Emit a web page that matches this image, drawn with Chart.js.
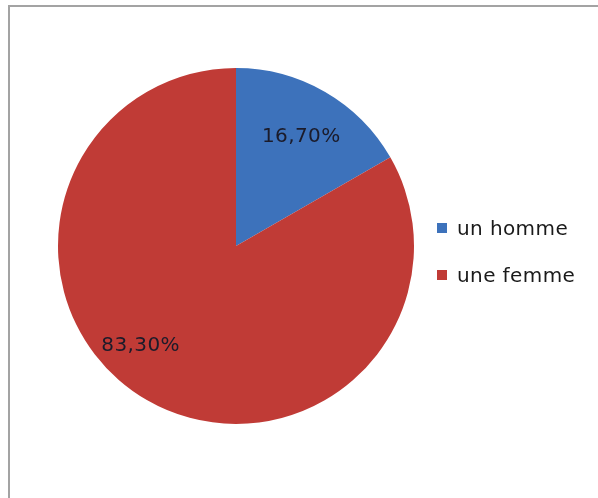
<!DOCTYPE html>
<html>
<head>
<meta charset="utf-8">
<script src="https://cdn.jsdelivr.net/npm/chart.js@4"></script>
<style>
  html, body { margin: 0; padding: 0; background: #fff; }
  #wrap { width: 598px; height: 498px; position: relative; }
</style>
</head>
<body>
<div id="wrap"><canvas id="pieChart" width="598" height="498"></canvas></div>
<script>
// --- Data ---
const categories = ['un homme', 'une femme'];
const shares = [16.7, 83.3];
const sliceColors = ['#3d72bb', '#c03b36'];

const FONT = '"DejaVu Sans", sans-serif';

// format 16.7 -> "16,70%"
function fmtPct(v) {
    return v.toFixed(2).replace('.', ',') + '%';
}

// Outer frame (top + left edges)
const framePlugin = {
    id: 'frame',
    beforeDraw(chart) {
        const ctx = chart.ctx;
        ctx.save();
        ctx.fillStyle = '#fff';
        ctx.fillRect(0, 0, chart.width, chart.height);
        ctx.strokeStyle = '#a3a3a3';
        ctx.lineWidth = 2;
        ctx.beginPath();
        ctx.moveTo(9, chart.height);
        ctx.lineTo(9, 6);
        ctx.lineTo(chart.width, 6);
        ctx.stroke();
        ctx.restore();
    }
};

// Percent labels inside slices
const labelShift = [[2, 0], [-32, -10]];
const sliceLabels = {
    id: 'sliceLabels',
    afterDatasetsDraw(chart) {
        const ctx = chart.ctx;
        const meta = chart.getDatasetMeta(0);
        ctx.save();
        ctx.font = '20px ' + FONT;
        ctx.letterSpacing = '0.4px';
        ctx.fillStyle = '#1b1b2a';
        ctx.textAlign = 'center';
        ctx.textBaseline = 'middle';
        meta.data.forEach((arc, i) => {
            const p = arc.getProps(['x', 'y', 'startAngle', 'endAngle', 'outerRadius'], true);
            const mid = (p.startAngle + p.endAngle) / 2;
            const r = p.outerRadius * 0.71;
            const x = p.x + Math.cos(mid) * r + labelShift[i][0];
            const y = p.y + Math.sin(mid) * r + labelShift[i][1];
            ctx.fillText(fmtPct(shares[i]), x, y);
        });
        ctx.restore();
    }
};

// Legend on the right
const sideLegend = {
    id: 'sideLegend',
    afterDraw(chart) {
        const ctx = chart.ctx;
        ctx.save();
        ctx.font = '20px ' + FONT;
        ctx.letterSpacing = '0.4px';
        ctx.textBaseline = 'middle';
        categories.forEach((name, i) => {
            const cy = 228 + i * 47;
            ctx.fillStyle = sliceColors[i];
            ctx.fillRect(437, cy - 5, 10, 10);
            ctx.fillStyle = '#1a1a1a';
            ctx.fillText(name, 457, cy + 2);
        });
        ctx.restore();
    }
};

new Chart(document.getElementById('pieChart'), {
    type: 'pie',
    data: {
        labels: categories,
        datasets: [{
            data: shares,
            backgroundColor: sliceColors,
            borderWidth: 0
        }]
    },
    options: {
        responsive: false,
        animation: false,
        layout: { padding: { left: 58, right: 184, top: 68, bottom: 74 } },
        plugins: {
            legend: { display: false },
            tooltip: { enabled: false }
        }
    },
    plugins: [framePlugin, sliceLabels, sideLegend]
});
</script>
</body>
</html>
